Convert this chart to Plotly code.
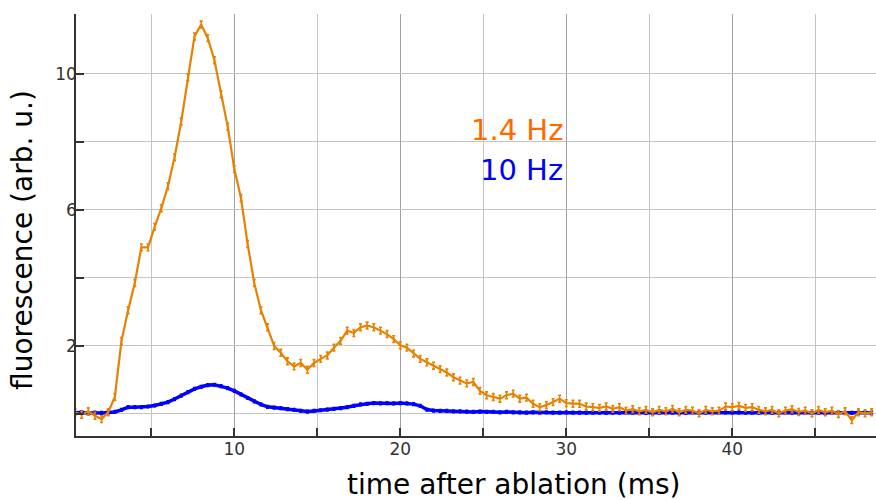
import numpy as np
import plotly.graph_objects as go

# time grid (ms), sampled every 0.4 ms
t_start = 0.4
t_step = 0.4

# fluorescence (arb. u.) at 1.4 Hz repetition rate
fluor_1p4hz = [
    0.05, -0.02, 0.08, -0.05, -0.15, 0.05, 0.5, 2.15, 3.05, 3.85,
    4.9, 4.9, 5.5, 6.05, 6.7, 7.55, 8.6, 9.9, 11.1, 11.45,
    11.05, 10.4, 9.4, 8.45, 7.2, 6.35, 5.0, 3.85, 3.05, 2.55,
    2.0, 1.8, 1.55, 1.4, 1.5, 1.3, 1.5, 1.62, 1.72, 1.95,
    2.15, 2.45, 2.38, 2.55, 2.6, 2.55, 2.45, 2.35, 2.2, 2.02,
    1.95, 1.78, 1.62, 1.52, 1.42, 1.32, 1.22, 1.08, 0.98, 0.9,
    0.94, 0.68, 0.55, 0.5, 0.45, 0.55, 0.6, 0.45, 0.48, 0.3,
    0.2, 0.26, 0.35, 0.45, 0.32, 0.3, 0.3, 0.22, 0.2, 0.18,
    0.22, 0.15, 0.2, 0.1, 0.14, 0.08, 0.12, 0.05, 0.12, 0.08,
    0.15, 0.05, 0.12, 0.1, 0.02, 0.12, 0.08, 0.1, 0.22, 0.2,
    0.24, 0.18, 0.2, 0.12, 0.08, 0.12, 0.02, 0.1, 0.14, 0.06,
    0.1, 0.02, 0.12, 0.05, 0.1, 0.0, 0.08, -0.18, 0.05, 0.02,
    0.05,
]

# fluorescence (arb. u.) at 10 Hz repetition rate
fluor_10hz = [
    0.03, 0.05, 0.02, 0.04, 0.03, 0.05, 0.06, 0.12, 0.2, 0.2,
    0.2, 0.22, 0.25, 0.3, 0.35, 0.44, 0.54, 0.64, 0.74, 0.8,
    0.85, 0.86, 0.82, 0.76, 0.68, 0.58, 0.47, 0.37, 0.28, 0.21,
    0.19, 0.17, 0.14, 0.12, 0.09, 0.07, 0.09, 0.11, 0.13, 0.15,
    0.17, 0.2, 0.24, 0.28, 0.3, 0.32, 0.31, 0.32, 0.31, 0.32,
    0.31, 0.29, 0.24, 0.13, 0.1, 0.09, 0.09, 0.08, 0.08, 0.07,
    0.06, 0.07, 0.06, 0.06, 0.05, 0.06, 0.05, 0.05, 0.04, 0.05,
    0.04, 0.05, 0.04, 0.04, 0.05, 0.04, 0.04, 0.03, 0.04, 0.04,
    0.03, 0.04, 0.04, 0.03, 0.04, 0.04, 0.03, 0.04, 0.04, 0.03,
    0.04, 0.04, 0.03, 0.04, 0.04, 0.04, 0.03, 0.04, 0.05, 0.05,
    0.05, 0.04, 0.04, 0.04, 0.03, 0.04, 0.04, 0.03, 0.04, 0.04,
    0.03, 0.04, 0.04, 0.03, 0.04, 0.04, 0.03, 0.03, 0.04, 0.04,
    0.04,
]

label_1p4 = "1.4 Hz"
label_10 = "10 Hz"
x_title = "time after ablation (ms)"
y_title = "fluorescence (arb. u.)"
x_tickvals = [10, 20, 30, 40]
y_tickvals = [2, 6, 10]

t1 = t_start + t_step * np.arange(len(fluor_1p4hz))
t2 = t_start + t_step * np.arange(len(fluor_10hz))

ORANGE = "#e68200"
BLUE = "#0000ff"

fig = go.Figure()
fig.add_trace(go.Scatter(
    x=t2, y=fluor_10hz, mode="lines",
    line=dict(color=BLUE, width=3.5),
    error_y=dict(type="constant", value=0.04, color=BLUE, thickness=1.5, width=1.5),
    showlegend=False,
))
fig.add_trace(go.Scatter(
    x=t1, y=fluor_1p4hz, mode="lines",
    line=dict(color=ORANGE, width=2.2),
    error_y=dict(type="constant", value=0.1, color=ORANGE, thickness=1.6, width=1.5),
    showlegend=False,
))

fig.add_annotation(x=29.9, y=8.35, xref="x", yref="y", text=label_1p4,
                   showarrow=False, xanchor="right", yanchor="middle",
                   font=dict(family="DejaVu Sans", size=29, color="#ff6a00"))
fig.add_annotation(x=29.9, y=7.18, xref="x", yref="y", text=label_10,
                   showarrow=False, xanchor="right", yanchor="middle",
                   font=dict(family="DejaVu Sans", size=29, color=BLUE))

fig.add_annotation(x=(513 - 76) / 800, y=-(484 - 436) / 422, xref="paper", yref="paper",
                   text=x_title, showarrow=False, xanchor="center", yanchor="middle",
                   font=dict(family="DejaVu Sans", size=28, color="#000000"))
fig.add_annotation(x=(22 - 76) / 800, y=(436 - 240) / 422, xref="paper", yref="paper",
                   text=y_title, showarrow=False, xanchor="center", yanchor="middle",
                   textangle=-90,
                   font=dict(family="DejaVu Sans", size=28, color="#000000"))

fig.update_layout(
    width=876, height=500,
    margin=dict(l=76, r=0, t=14, b=64),
    plot_bgcolor="white", paper_bgcolor="white",
    font=dict(family="DejaVu Sans", size=17, color="#333333"),
    showlegend=False,
)
fig.update_xaxes(
    range=[0.46, 48.66],
    tickmode="array", tickvals=x_tickvals,
    ticks="inside", ticklen=8, tickwidth=1.5, tickcolor="#333333",
    showgrid=True, gridcolor="#a0a0a0", gridwidth=1,
    minor=dict(dtick=5, tick0=0, ticks="inside", ticklen=8, tickwidth=1.5,
               tickcolor="#333333", showgrid=True, gridcolor="#c4c4c4", gridwidth=1),
    showline=True, linecolor="#333333", linewidth=1.5,
    zeroline=False, ticklabelstandoff=-3,
)
fig.update_yaxes(
    range=[-0.647, 11.76],
    tickmode="array", tickvals=y_tickvals,
    ticks="inside", ticklen=8, tickwidth=1.5, tickcolor="#333333",
    showgrid=True, gridcolor="#c4c4c4", gridwidth=1,
    minor=dict(dtick=2, tick0=0, ticks="inside", ticklen=8, tickwidth=1.5,
               tickcolor="#333333", showgrid=True, gridcolor="#c4c4c4", gridwidth=1),
    showline=True, linecolor="#333333", linewidth=1.5,
    zeroline=False, ticklabelstandoff=-6,
)

fig.write_html("out.html")
